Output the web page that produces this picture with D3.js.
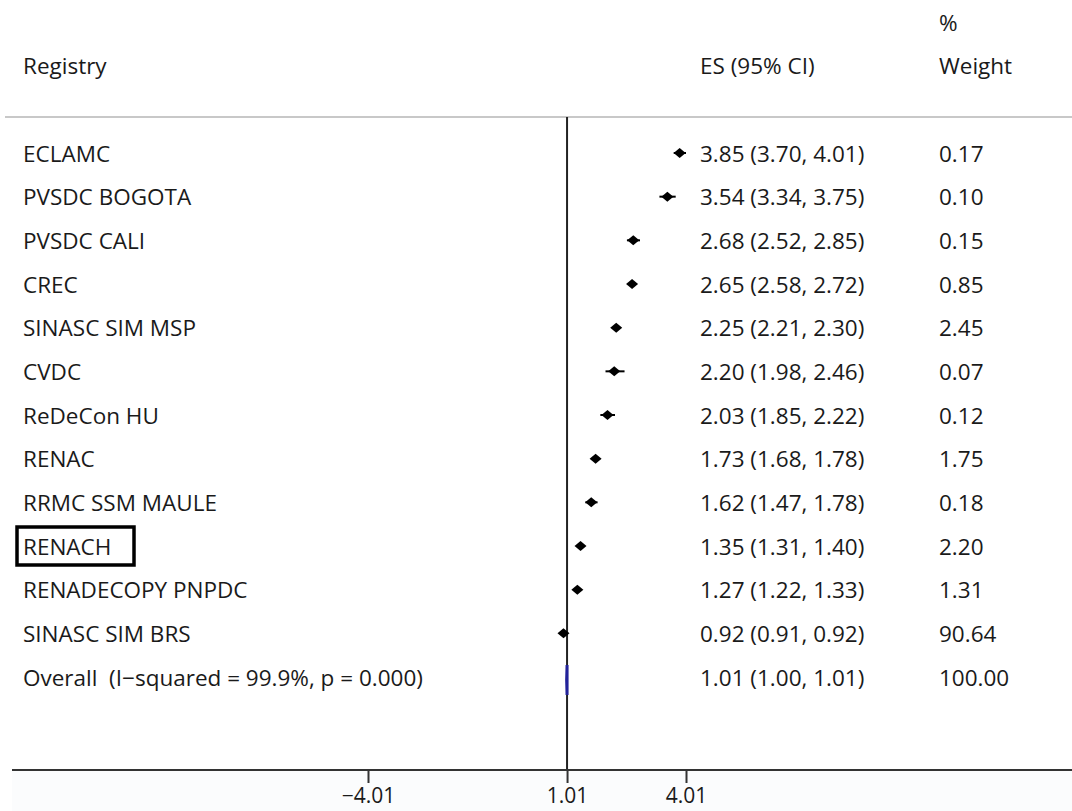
<!DOCTYPE html>
<html><head><meta charset="utf-8">
<script src="https://cdn.jsdelivr.net/npm/d3@7"></script>
<style>
html,body{margin:0;padding:0;background:#fff;}
svg{display:block;}
text{font-family:"Open Sans",sans-serif;fill:#1a1a1a;}
</style></head>
<body>
<svg id="chart" width="1072" height="811"></svg>
<script>
const registries = ["ECLAMC","PVSDC BOGOTA","PVSDC CALI","CREC","SINASC SIM MSP","CVDC","ReDeCon HU","RENAC","RRMC SSM MAULE","RENACH","RENADECOPY PNPDC","SINASC SIM BRS"];
const es    = [3.85, 3.54, 2.68, 2.65, 2.25, 2.20, 2.03, 1.73, 1.62, 1.35, 1.27, 0.92];
const lower = [3.70, 3.34, 2.52, 2.58, 2.21, 1.98, 1.85, 1.68, 1.47, 1.31, 1.22, 0.91];
const upper = [4.01, 3.75, 2.85, 2.72, 2.30, 2.46, 2.22, 1.78, 1.78, 1.40, 1.33, 0.92];
const weights = ["0.17","0.10","0.15","0.85","2.45","0.07","0.12","1.75","0.18","2.20","1.31","90.64"];
const overallLabel = "Overall\u00a0\u00a0(I\u2212squared = 99.9%, p = 0.000)";
const overall = {es: 1.01, lower: 1.00, upper: 1.01, weight: "100.00"};
const tickValues = [-4.01, 1.01, 4.01];
const tickLabels = ["\u22124.01", "1.01", "4.01"];
const highlighted = "RENACH";

const svg = d3.select("#chart");
const fmt = d3.format(".2f");
const FS = 22.5;

const x = d3.scaleLinear().domain([-4.01, 4.01]).range([368, 686]);
const nRows = registries.length + 1;
const y = d3.scaleLinear().domain([0, nRows - 1]).range([153, 677]);

const axisY = 770, topLineY = 117;

// header
svg.append("text").attr("x", 23).attr("y", 65).attr("dominant-baseline", "central").attr("font-size", FS).text("Registry");
svg.append("text").attr("x", 700).attr("y", 65).attr("dominant-baseline", "central").attr("font-size", FS).text("ES (95% CI)");
svg.append("text").attr("x", 939).attr("y", 22).attr("dominant-baseline", "central").attr("font-size", FS).text("%");
svg.append("text").attr("x", 939).attr("y", 65).attr("dominant-baseline", "central").attr("font-size", FS).text("Weight");

// header separator
svg.append("line").attr("x1", 5).attr("x2", 1072).attr("y1", topLineY).attr("y2", topLineY)
  .attr("stroke", "#c8c8c8").attr("stroke-width", 2);

// background below axis
svg.append("rect").attr("x", 12).attr("y", axisY).attr("width", 1060).attr("height", 811 - axisY).attr("fill", "#fbfcfd");

// null/reference line
svg.append("line").attr("x1", x(1.01)).attr("x2", x(1.01)).attr("y1", topLineY).attr("y2", axisY)
  .attr("stroke", "#222").attr("stroke-width", 2);

// axis
svg.append("line").attr("x1", 12).attr("x2", 1072).attr("y1", axisY).attr("y2", axisY)
  .attr("stroke", "#333").attr("stroke-width", 2.2);
const axis = d3.axisBottom(x).tickValues(tickValues).tickSize(13).tickPadding(5)
  .tickFormat((d, i) => tickLabels[i]);
const gAxis = svg.append("g").attr("transform", `translate(0,${axisY})`).call(axis);
gAxis.select(".domain").remove();
gAxis.selectAll(".tick line").attr("stroke", "#333").attr("stroke-width", 2);
gAxis.selectAll(".tick text").attr("font-size", 21).attr("font-family", "Open Sans, sans-serif").attr("fill", "#1a1a1a");

// rows
const rows = registries.map((r, i) => ({name: r, es: es[i], lo: lower[i], hi: upper[i], w: weights[i], i}));
const g = svg.append("g");
rows.forEach(d => {
  const yy = y(d.i);
  g.append("text").attr("x", 23).attr("y", yy).attr("dominant-baseline", "central").attr("font-size", FS).text(d.name);
  g.append("text").attr("x", 700).attr("y", yy).attr("dominant-baseline", "central").attr("font-size", FS)
    .text(`${fmt(d.es)} (${fmt(d.lo)}, ${fmt(d.hi)})`);
  g.append("text").attr("x", 939).attr("y", yy).attr("dominant-baseline", "central").attr("font-size", FS).text(d.w);
  // CI line
  g.append("line").attr("x1", x(d.lo)).attr("x2", x(d.hi)).attr("y1", yy).attr("y2", yy)
    .attr("stroke", "#000").attr("stroke-width", 2);
  // diamond marker
  const cx = x(d.es), h = 5, wd = 6;
  g.append("path").attr("d", `M${cx - wd},${yy}L${cx},${yy - h}L${cx + wd},${yy}L${cx},${yy + h}Z`).attr("fill", "#000");
  if (d.name === highlighted) {
    g.append("rect").attr("x", 17).attr("y", yy - 19).attr("width", 117).attr("height", 38)
      .attr("fill", "none").attr("stroke", "#000").attr("stroke-width", 3.5);
  }
});

// overall
const yo = y(nRows - 1);
g.append("text").attr("x", 23).attr("y", yo).attr("dominant-baseline", "central").attr("font-size", FS).text(overallLabel);
g.append("text").attr("x", 700).attr("y", yo).attr("dominant-baseline", "central").attr("font-size", FS)
  .text(`${fmt(overall.es)} (${fmt(overall.lower)}, ${fmt(overall.upper)})`);
g.append("text").attr("x", 939).attr("y", yo).attr("dominant-baseline", "central").attr("font-size", FS).text(overall.weight);
const ym = yo + 3;
g.append("path")
  .attr("d", `M${x(overall.lower)},${ym}L${x(overall.es)},${ym - 15}L${x(overall.upper)},${ym}L${x(overall.es)},${ym + 15}Z`)
  .attr("fill", "#22229a").attr("stroke", "#22229a").attr("stroke-width", 3);
</script>
</body></html>
